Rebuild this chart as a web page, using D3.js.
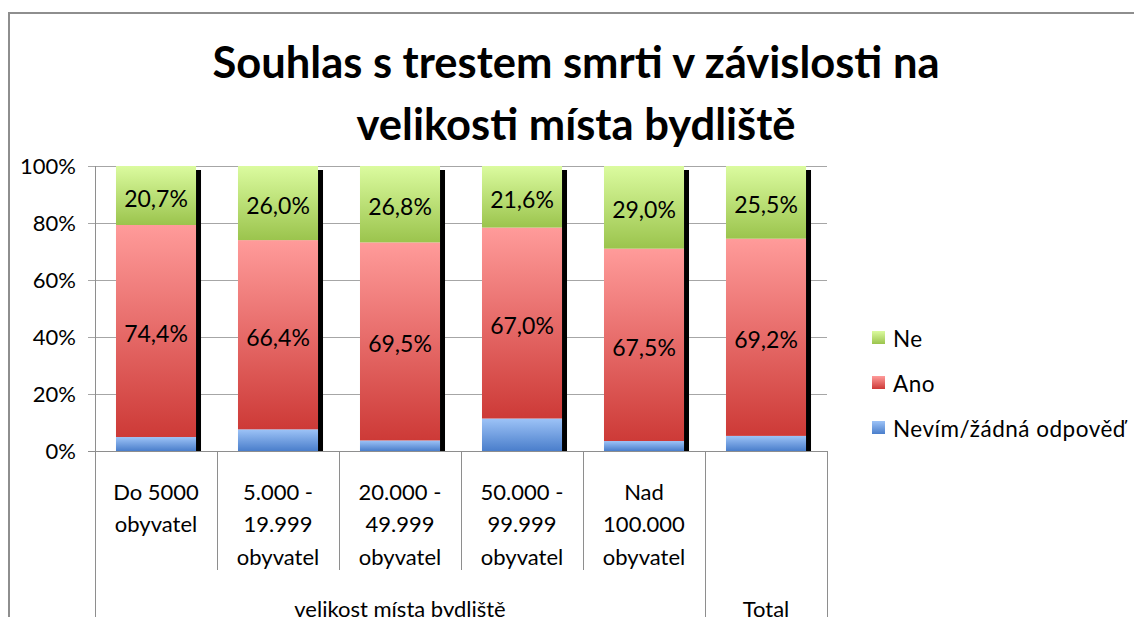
<!DOCTYPE html>
<html>
<head>
<meta charset="utf-8">
<script src="https://cdn.jsdelivr.net/npm/d3@7"></script>
<style>
    body { margin: 0; background: #fff; }
    svg { display: block; }
</style>
</head>
<body>
<div id="chart"></div>
<script>
// chart values
var categories = ["Do 5000 obyvatel", "5.000 - 19.999 obyvatel", "20.000 - 49.999 obyvatel",
    "50.000 - 99.999 obyvatel", "Nad 100.000 obyvatel", "Total"];
var categoryLines = [
    ["Do 5000", "obyvatel"],
    ["5.000 -", "19.999", "obyvatel"],
    ["20.000 -", "49.999", "obyvatel"],
    ["50.000 -", "99.999", "obyvatel"],
    ["Nad", "100.000", "obyvatel"],
    []
];
var groupLabels = ["velikost místa bydliště", "Total"];
var groupSpans = [[0, 4], [5, 5]];

var nevim = [4.9, 7.6, 3.7, 11.4, 3.5, 5.3];
var ano = [74.4, 66.4, 69.5, 67.0, 67.5, 69.2];
var ne = [20.7, 26.0, 26.8, 21.6, 29.0, 25.5];

var seriesNames = ["Nevím/žádná odpověď", "Ano", "Ne"];
var yTicks = [0, 20, 40, 60, 80, 100];

var titleLines = ["Souhlas s trestem smrti v závislosti na", "velikosti místa bydliště"];

var width = 1134, height = 617;
var font = "Lato, 'Open Sans', sans-serif";

var svg = d3.select("#chart")
    .append("svg")
    .attr("width", width)
    .attr("height", height);

// gradients like the excel fills (light at top, dark at bottom)
var fills = [
    { id: "g_nevim", top: "#9dc3f7", bottom: "#4a7ecb" },
    { id: "g_ano", top: "#ff9b9a", bottom: "#cd3a37" },
    { id: "g_ne", top: "#dbfb9f", bottom: "#9bc44d" }
];
var defs = svg.append("defs");
fills.forEach(function (f) {
    var g = defs.append("linearGradient")
        .attr("id", f.id)
        .attr("x1", 0).attr("y1", 0).attr("x2", 0).attr("y2", 1);
    g.append("stop").attr("offset", "0%").attr("stop-color", f.top);
    g.append("stop").attr("offset", "100%").attr("stop-color", f.bottom);
});

// chart frame
svg.append("path")
    .attr("d", "M9,618 V13 H1140")
    .attr("fill", "none")
    .attr("stroke", "#8e8e8e")
    .attr("stroke-width", 2);

// title
svg.append("text")
    .attr("text-anchor", "middle")
    .attr("font-family", font)
    .attr("font-weight", "bold")
    .attr("font-size", "43.5px")
    .attr("fill", "#000")
    .selectAll("tspan")
    .data(titleLines)
    .join("tspan")
    .attr("x", 576)
    .attr("y", function (d, i) { return 78 + i * 62; })
    .text(function (d) { return d; });

// scales
var x = d3.scaleBand()
    .domain(categories)
    .range([95, 827])
    .padding(0);

var y = d3.scaleLinear()
    .domain([0, 100])
    .range([451, 166]);

var barWidth = x.bandwidth() * 0.656;
var barOffset = (x.bandwidth() - barWidth) / 2;

// gridlines + y ticks
svg.append("g")
    .selectAll("line")
    .data(yTicks)
    .join("line")
    .attr("x1", 88)
    .attr("x2", x.range()[1])
    .attr("y1", function (d) { return y(d) + 0.5; })
    .attr("y2", function (d) { return y(d) + 0.5; })
    .attr("stroke", "#a6a6a6")
    .attr("stroke-width", 1);

svg.append("line")
    .attr("x1", 95.5).attr("x2", 95.5)
    .attr("y1", y(100)).attr("y2", y(0))
    .attr("stroke", "#8e8e8e");

svg.append("g")
    .selectAll("text")
    .data(yTicks)
    .join("text")
    .attr("x", 76)
    .attr("y", function (d) { return y(d); })
    .attr("dy", "0.35em")
    .attr("text-anchor", "end")
    .attr("font-family", font)
    .attr("font-size", "22px")
    .attr("fill", "#000")
    .text(function (d) { return d + "%"; });

// stacked data
var table = categories.map(function (c, i) {
    return { cat: c, nevim: nevim[i], ano: ano[i], ne: ne[i] };
});
var stack = d3.stack().keys(["nevim", "ano", "ne"]);
var stacked = stack(table);

// shadow on the right side of each column
svg.append("g")
    .selectAll("rect")
    .data(table)
    .join("rect")
    .attr("x", function (d) { return x(d.cat) + barOffset + barWidth; })
    .attr("y", function (d) { return y(d.nevim + d.ano + d.ne) + 4; })
    .attr("width", 5)
    .attr("height", function (d) { return y(0) - y(d.nevim + d.ano + d.ne) - 4; })
    .attr("fill", "#000");

// bars
svg.append("g")
    .selectAll("g")
    .data(stacked)
    .join("g")
    .attr("fill", function (d, i) { return "url(#" + fills[i].id + ")"; })
    .selectAll("rect")
    .data(function (d) { return d; })
    .join("rect")
    .attr("x", function (d) { return x(d.data.cat) + barOffset; })
    .attr("y", function (d) { return y(d[1]); })
    .attr("width", barWidth)
    .attr("height", function (d) { return y(d[0]) - y(d[1]); });

// data labels (only Ano and Ne)
var czech = d3.formatLocale({ decimal: ",", thousands: ".", grouping: [3], currency: ["", " Kč"] });
var fmt = czech.format(".1f");
svg.append("g")
    .selectAll("g")
    .data(stacked.slice(1))
    .join("g")
    .selectAll("text")
    .data(function (d) { return d; })
    .join("text")
    .attr("x", function (d) { return x(d.data.cat) + barOffset + barWidth / 2; })
    .attr("y", function (d) { return (y(d[0]) + y(d[1])) / 2 + 3; })
    .attr("dy", "0.35em")
    .attr("text-anchor", "middle")
    .attr("font-family", font)
    .attr("font-size", "23px")
    .attr("fill", "#000")
    .text(function (d) { return fmt(d[1] - d[0]) + "%"; });

// x axis (two levels)
svg.append("line")
    .attr("x1", 88).attr("x2", x.range()[1])
    .attr("y1", y(0) + 0.5).attr("y2", y(0) + 0.5)
    .attr("stroke", "#8e8e8e");

var boundaries = categories.map(function (c) { return x(c); }).concat([x.range()[1]]);
var outer = [0, 5, 6];
svg.append("g")
    .selectAll("line")
    .data(boundaries)
    .join("line")
    .attr("x1", function (d) { return Math.round(d) + 0.5; })
    .attr("x2", function (d) { return Math.round(d) + 0.5; })
    .attr("y1", y(0))
    .attr("y2", function (d, i) { return outer.indexOf(i) >= 0 ? height : 570; })
    .attr("stroke", "#8e8e8e");

svg.append("g")
    .selectAll("text")
    .data(categories)
    .join("text")
    .attr("text-anchor", "middle")
    .attr("font-family", font)
    .attr("font-size", "22px")
    .attr("fill", "#000")
    .each(function (c, i) {
        d3.select(this).selectAll("tspan")
            .data(categoryLines[i])
            .join("tspan")
            .attr("x", x(c) + x.bandwidth() / 2)
            .attr("y", function (d, j) { return 492 + j * 32.5; })
            .attr("dy", "0.35em")
            .text(function (d) { return d; });
    });

svg.append("g")
    .selectAll("text")
    .data(groupLabels)
    .join("text")
    .attr("x", function (d, i) {
        var s = groupSpans[i];
        return (x(categories[s[0]]) + x(categories[s[1]]) + x.bandwidth()) / 2;
    })
    .attr("y", 609)
    .attr("dy", "0.35em")
    .attr("text-anchor", "middle")
    .attr("font-family", font)
    .attr("font-size", "22px")
    .attr("fill", "#000")
    .text(function (d) { return d; });

// legend (Ne on top)
var legend = svg.append("g")
    .selectAll("g")
    .data([2, 1, 0])
    .join("g")
    .attr("transform", function (d, i) { return "translate(872," + (339 + i * 45) + ")"; });

legend.append("rect")
    .attr("x", 0)
    .attr("y", -8)
    .attr("width", 13)
    .attr("height", 13)
    .attr("fill", function (d) { return "url(#" + fills[d].id + ")"; });

legend.append("text")
    .attr("x", 21)
    .attr("y", 0)
    .attr("dy", "0.35em")
    .attr("font-family", font)
    .attr("font-size", "22.5px")
    .attr("letter-spacing", "0.5px")
    .attr("fill", "#000")
    .text(function (d) { return seriesNames[d]; });
</script>
</body>
</html>
